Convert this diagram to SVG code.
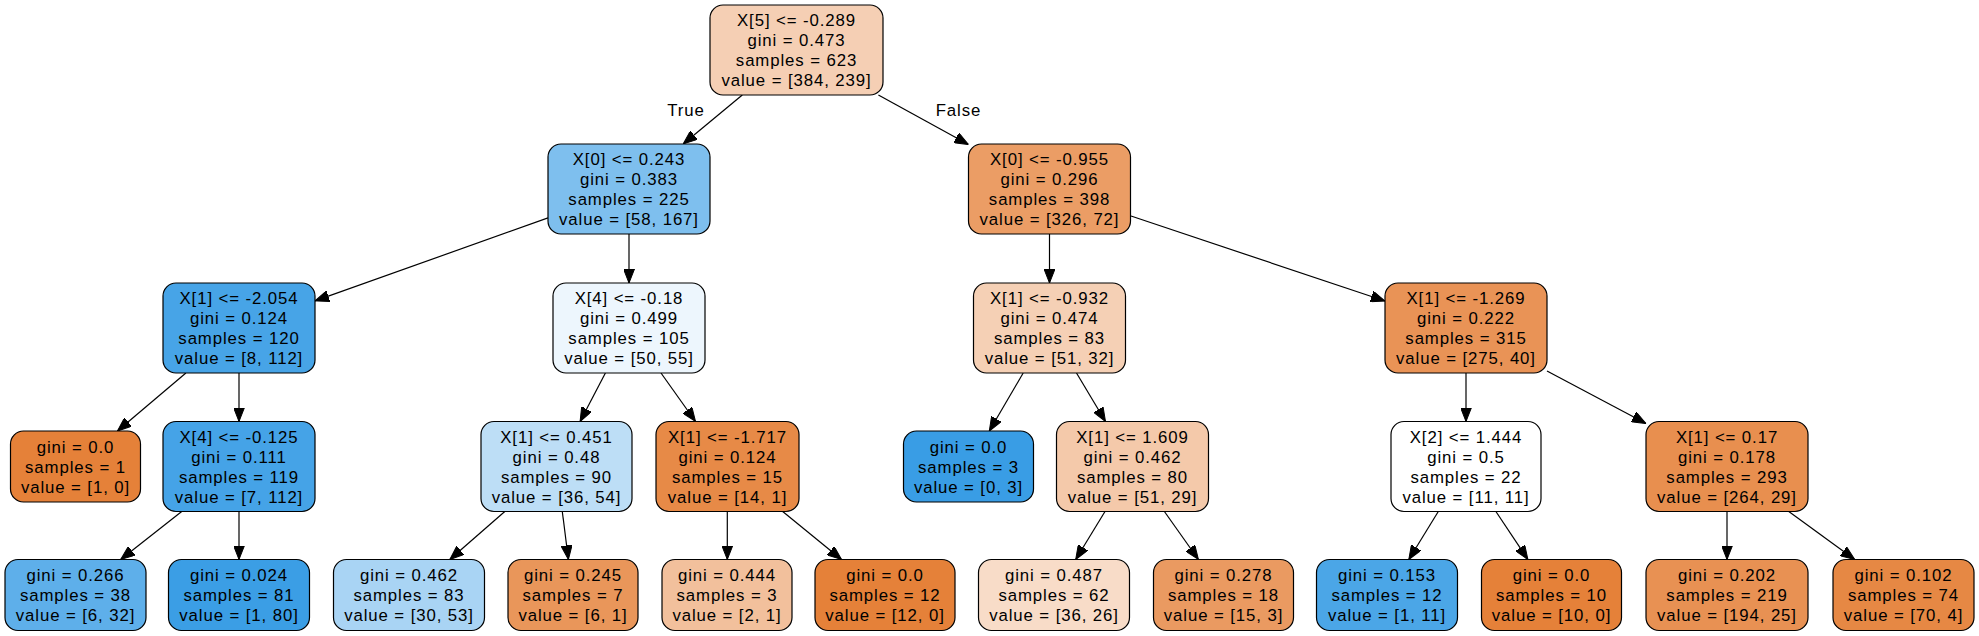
<svg xmlns="http://www.w3.org/2000/svg" width="1979" height="636" viewBox="0 0 1979 636">
<style>
  .bg { fill: #ffffff; }
  .box { stroke: #000000; stroke-width: 1.2; }
  text { font-family: "Liberation Sans", Arial, Helvetica, sans-serif; font-size: 16.8px; letter-spacing: 0.9px; fill: #000000; text-anchor: middle; }
  .edge { stroke: #000000; stroke-width: 1.2; fill: none; marker-end: url(#arrow); }
</style>
<defs>
  <marker id="arrow" viewBox="0 0 14 11" refX="14" refY="5.5" markerWidth="14" markerHeight="11" markerUnits="userSpaceOnUse" orient="auto">
    <path d="M0,0 L14,5.5 L0,11 Z" fill="#000000" stroke="#000000" stroke-width="1"/>
  </marker>
</defs>
<rect class="bg" x="0" y="0" width="1979" height="636"/>

<g id="connectors">
  <line class="edge" x1="742.3" y1="95" x2="683.2" y2="144"/>
  <line class="edge" x1="878.4" y1="95" x2="968.5" y2="144.5"/>
  <line class="edge" x1="548" y1="217.9" x2="315" y2="300.9"/>
  <line class="edge" x1="629" y1="234" x2="629" y2="283"/>
  <line class="edge" x1="1049.5" y1="234" x2="1049.5" y2="283"/>
  <line class="edge" x1="1131" y1="216" x2="1385" y2="301"/>
  <line class="edge" x1="185.9" y1="373" x2="117.4" y2="431"/>
  <line class="edge" x1="239" y1="373" x2="239" y2="421.5"/>
  <line class="edge" x1="605.4" y1="373" x2="580.1" y2="421.5"/>
  <line class="edge" x1="661" y1="373" x2="695.5" y2="421.5"/>
  <line class="edge" x1="1023.2" y1="373" x2="989.3" y2="431"/>
  <line class="edge" x1="1076.5" y1="373" x2="1105.5" y2="421.5"/>
  <line class="edge" x1="1466" y1="373" x2="1466" y2="421.5"/>
  <line class="edge" x1="1547" y1="371" x2="1646" y2="423.5"/>
  <line class="edge" x1="181.7" y1="511.5" x2="120.7" y2="559.5"/>
  <line class="edge" x1="239" y1="511.5" x2="239" y2="559.5"/>
  <line class="edge" x1="504.8" y1="511.5" x2="449.8" y2="559.5"/>
  <line class="edge" x1="562.3" y1="511.5" x2="568.4" y2="559.5"/>
  <line class="edge" x1="727.3" y1="511.5" x2="727.3" y2="559.5"/>
  <line class="edge" x1="782.7" y1="511.5" x2="841.5" y2="559.5"/>
  <line class="edge" x1="1105" y1="511.5" x2="1075.7" y2="559.5"/>
  <line class="edge" x1="1164.4" y1="511.5" x2="1198.4" y2="559.5"/>
  <line class="edge" x1="1438.3" y1="511.5" x2="1408.8" y2="559.5"/>
  <line class="edge" x1="1495.9" y1="511.5" x2="1527.9" y2="559.5"/>
  <line class="edge" x1="1727" y1="511.5" x2="1727" y2="559.5"/>
  <line class="edge" x1="1788.8" y1="511.5" x2="1854.7" y2="559.5"/>
  <text x="686" y="116">True</text>
  <text x="958.5" y="116">False</text>
</g>

<g id="node0">
  <rect class="box" x="710" y="5" width="173" height="90" rx="13" fill="#f5cfb4"/>
  <text x="796.5" y="26">X[5] &lt;= -0.289</text>
  <text x="796.5" y="46">gini = 0.473</text>
  <text x="796.5" y="66">samples = 623</text>
  <text x="796.5" y="86">value = [384, 239]</text>
</g>

<g id="node1">
  <rect class="box" x="548" y="144" width="162" height="90" rx="13" fill="#7ebfee"/>
  <text x="629" y="165">X[0] &lt;= 0.243</text>
  <text x="629" y="185">gini = 0.383</text>
  <text x="629" y="205">samples = 225</text>
  <text x="629" y="225">value = [58, 167]</text>
</g>

<g id="node2">
  <rect class="box" x="968.5" y="144" width="162" height="90" rx="13" fill="#eb9d65"/>
  <text x="1049.5" y="165">X[0] &lt;= -0.955</text>
  <text x="1049.5" y="185">gini = 0.296</text>
  <text x="1049.5" y="205">samples = 398</text>
  <text x="1049.5" y="225">value = [326, 72]</text>
</g>

<g id="node3">
  <rect class="box" x="163" y="283" width="152" height="90" rx="13" fill="#47a4e7"/>
  <text x="239" y="304">X[1] &lt;= -2.054</text>
  <text x="239" y="324">gini = 0.124</text>
  <text x="239" y="344">samples = 120</text>
  <text x="239" y="364">value = [8, 112]</text>
</g>

<g id="node4">
  <rect class="box" x="553" y="283" width="152" height="90" rx="13" fill="#edf6fd"/>
  <text x="629" y="304">X[4] &lt;= -0.18</text>
  <text x="629" y="324">gini = 0.499</text>
  <text x="629" y="344">samples = 105</text>
  <text x="629" y="364">value = [50, 55]</text>
</g>

<g id="node5">
  <rect class="box" x="973.5" y="283" width="152" height="90" rx="13" fill="#f5d0b5"/>
  <text x="1049.5" y="304">X[1] &lt;= -0.932</text>
  <text x="1049.5" y="324">gini = 0.474</text>
  <text x="1049.5" y="344">samples = 83</text>
  <text x="1049.5" y="364">value = [51, 32]</text>
</g>

<g id="node6">
  <rect class="box" x="1385" y="283" width="162" height="90" rx="13" fill="#e99356"/>
  <text x="1466" y="304">X[1] &lt;= -1.269</text>
  <text x="1466" y="324">gini = 0.222</text>
  <text x="1466" y="344">samples = 315</text>
  <text x="1466" y="364">value = [275, 40]</text>
</g>

<g id="node7">
  <rect class="box" x="10.5" y="431" width="130" height="71" rx="13" fill="#e58139"/>
  <text x="75.5" y="452.5">gini = 0.0</text>
  <text x="75.5" y="472.5">samples = 1</text>
  <text x="75.5" y="492.5">value = [1, 0]</text>
</g>

<g id="node8">
  <rect class="box" x="163" y="421.5" width="152" height="90" rx="13" fill="#45a3e7"/>
  <text x="239" y="442.5">X[4] &lt;= -0.125</text>
  <text x="239" y="462.5">gini = 0.111</text>
  <text x="239" y="482.5">samples = 119</text>
  <text x="239" y="502.5">value = [7, 112]</text>
</g>

<g id="node9">
  <rect class="box" x="481" y="421.5" width="151" height="90" rx="13" fill="#bddef6"/>
  <text x="556.5" y="442.5">X[1] &lt;= 0.451</text>
  <text x="556.5" y="462.5">gini = 0.48</text>
  <text x="556.5" y="482.5">samples = 90</text>
  <text x="556.5" y="502.5">value = [36, 54]</text>
</g>

<g id="node10">
  <rect class="box" x="656" y="421.5" width="143" height="90" rx="13" fill="#e78a47"/>
  <text x="727.5" y="442.5">X[1] &lt;= -1.717</text>
  <text x="727.5" y="462.5">gini = 0.124</text>
  <text x="727.5" y="482.5">samples = 15</text>
  <text x="727.5" y="502.5">value = [14, 1]</text>
</g>

<g id="node11">
  <rect class="box" x="903.5" y="431" width="130" height="71" rx="13" fill="#399de5"/>
  <text x="968.5" y="452.5">gini = 0.0</text>
  <text x="968.5" y="472.5">samples = 3</text>
  <text x="968.5" y="492.5">value = [0, 3]</text>
</g>

<g id="node12">
  <rect class="box" x="1056.5" y="421.5" width="152" height="90" rx="13" fill="#f4c9aa"/>
  <text x="1132.5" y="442.5">X[1] &lt;= 1.609</text>
  <text x="1132.5" y="462.5">gini = 0.462</text>
  <text x="1132.5" y="482.5">samples = 80</text>
  <text x="1132.5" y="502.5">value = [51, 29]</text>
</g>

<g id="node13">
  <rect class="box" x="1391" y="421.5" width="150" height="90" rx="13" fill="#ffffff"/>
  <text x="1466" y="442.5">X[2] &lt;= 1.444</text>
  <text x="1466" y="462.5">gini = 0.5</text>
  <text x="1466" y="482.5">samples = 22</text>
  <text x="1466" y="502.5">value = [11, 11]</text>
</g>

<g id="node14">
  <rect class="box" x="1646" y="421.5" width="162" height="90" rx="13" fill="#e88f4f"/>
  <text x="1727" y="442.5">X[1] &lt;= 0.17</text>
  <text x="1727" y="462.5">gini = 0.178</text>
  <text x="1727" y="482.5">samples = 293</text>
  <text x="1727" y="502.5">value = [264, 29]</text>
</g>

<g id="node15">
  <rect class="box" x="5" y="559.5" width="141" height="71" rx="13" fill="#5eafea"/>
  <text x="75.5" y="581">gini = 0.266</text>
  <text x="75.5" y="601">samples = 38</text>
  <text x="75.5" y="621">value = [6, 32]</text>
</g>

<g id="node16">
  <rect class="box" x="168.5" y="559.5" width="141" height="71" rx="13" fill="#3b9ee5"/>
  <text x="239" y="581">gini = 0.024</text>
  <text x="239" y="601">samples = 81</text>
  <text x="239" y="621">value = [1, 80]</text>
</g>

<g id="node17">
  <rect class="box" x="333.5" y="559.5" width="151" height="71" rx="13" fill="#a9d4f4"/>
  <text x="409" y="581">gini = 0.462</text>
  <text x="409" y="601">samples = 83</text>
  <text x="409" y="621">value = [30, 53]</text>
</g>

<g id="node18">
  <rect class="box" x="508" y="559.5" width="130" height="71" rx="13" fill="#e9965a"/>
  <text x="573" y="581">gini = 0.245</text>
  <text x="573" y="601">samples = 7</text>
  <text x="573" y="621">value = [6, 1]</text>
</g>

<g id="node19">
  <rect class="box" x="662" y="559.5" width="130" height="71" rx="13" fill="#f2c09c"/>
  <text x="727" y="581">gini = 0.444</text>
  <text x="727" y="601">samples = 3</text>
  <text x="727" y="621">value = [2, 1]</text>
</g>

<g id="node20">
  <rect class="box" x="815" y="559.5" width="140" height="71" rx="13" fill="#e58139"/>
  <text x="885" y="581">gini = 0.0</text>
  <text x="885" y="601">samples = 12</text>
  <text x="885" y="621">value = [12, 0]</text>
</g>

<g id="node21">
  <rect class="box" x="978.5" y="559.5" width="151" height="71" rx="13" fill="#f8dcc8"/>
  <text x="1054" y="581">gini = 0.487</text>
  <text x="1054" y="601">samples = 62</text>
  <text x="1054" y="621">value = [36, 26]</text>
</g>

<g id="node22">
  <rect class="box" x="1153.5" y="559.5" width="140" height="71" rx="13" fill="#ea9a61"/>
  <text x="1223.5" y="581">gini = 0.278</text>
  <text x="1223.5" y="601">samples = 18</text>
  <text x="1223.5" y="621">value = [15, 3]</text>
</g>

<g id="node23">
  <rect class="box" x="1316.5" y="559.5" width="141" height="71" rx="13" fill="#4ba6e7"/>
  <text x="1387" y="581">gini = 0.153</text>
  <text x="1387" y="601">samples = 12</text>
  <text x="1387" y="621">value = [1, 11]</text>
</g>

<g id="node24">
  <rect class="box" x="1481.5" y="559.5" width="140" height="71" rx="13" fill="#e58139"/>
  <text x="1551.5" y="581">gini = 0.0</text>
  <text x="1551.5" y="601">samples = 10</text>
  <text x="1551.5" y="621">value = [10, 0]</text>
</g>

<g id="node25">
  <rect class="box" x="1646" y="559.5" width="162" height="71" rx="13" fill="#e89153"/>
  <text x="1727" y="581">gini = 0.202</text>
  <text x="1727" y="601">samples = 219</text>
  <text x="1727" y="621">value = [194, 25]</text>
</g>

<g id="node26">
  <rect class="box" x="1833" y="559.5" width="141" height="71" rx="13" fill="#e68844"/>
  <text x="1903.5" y="581">gini = 0.102</text>
  <text x="1903.5" y="601">samples = 74</text>
  <text x="1903.5" y="621">value = [70, 4]</text>
</g>
</svg>
